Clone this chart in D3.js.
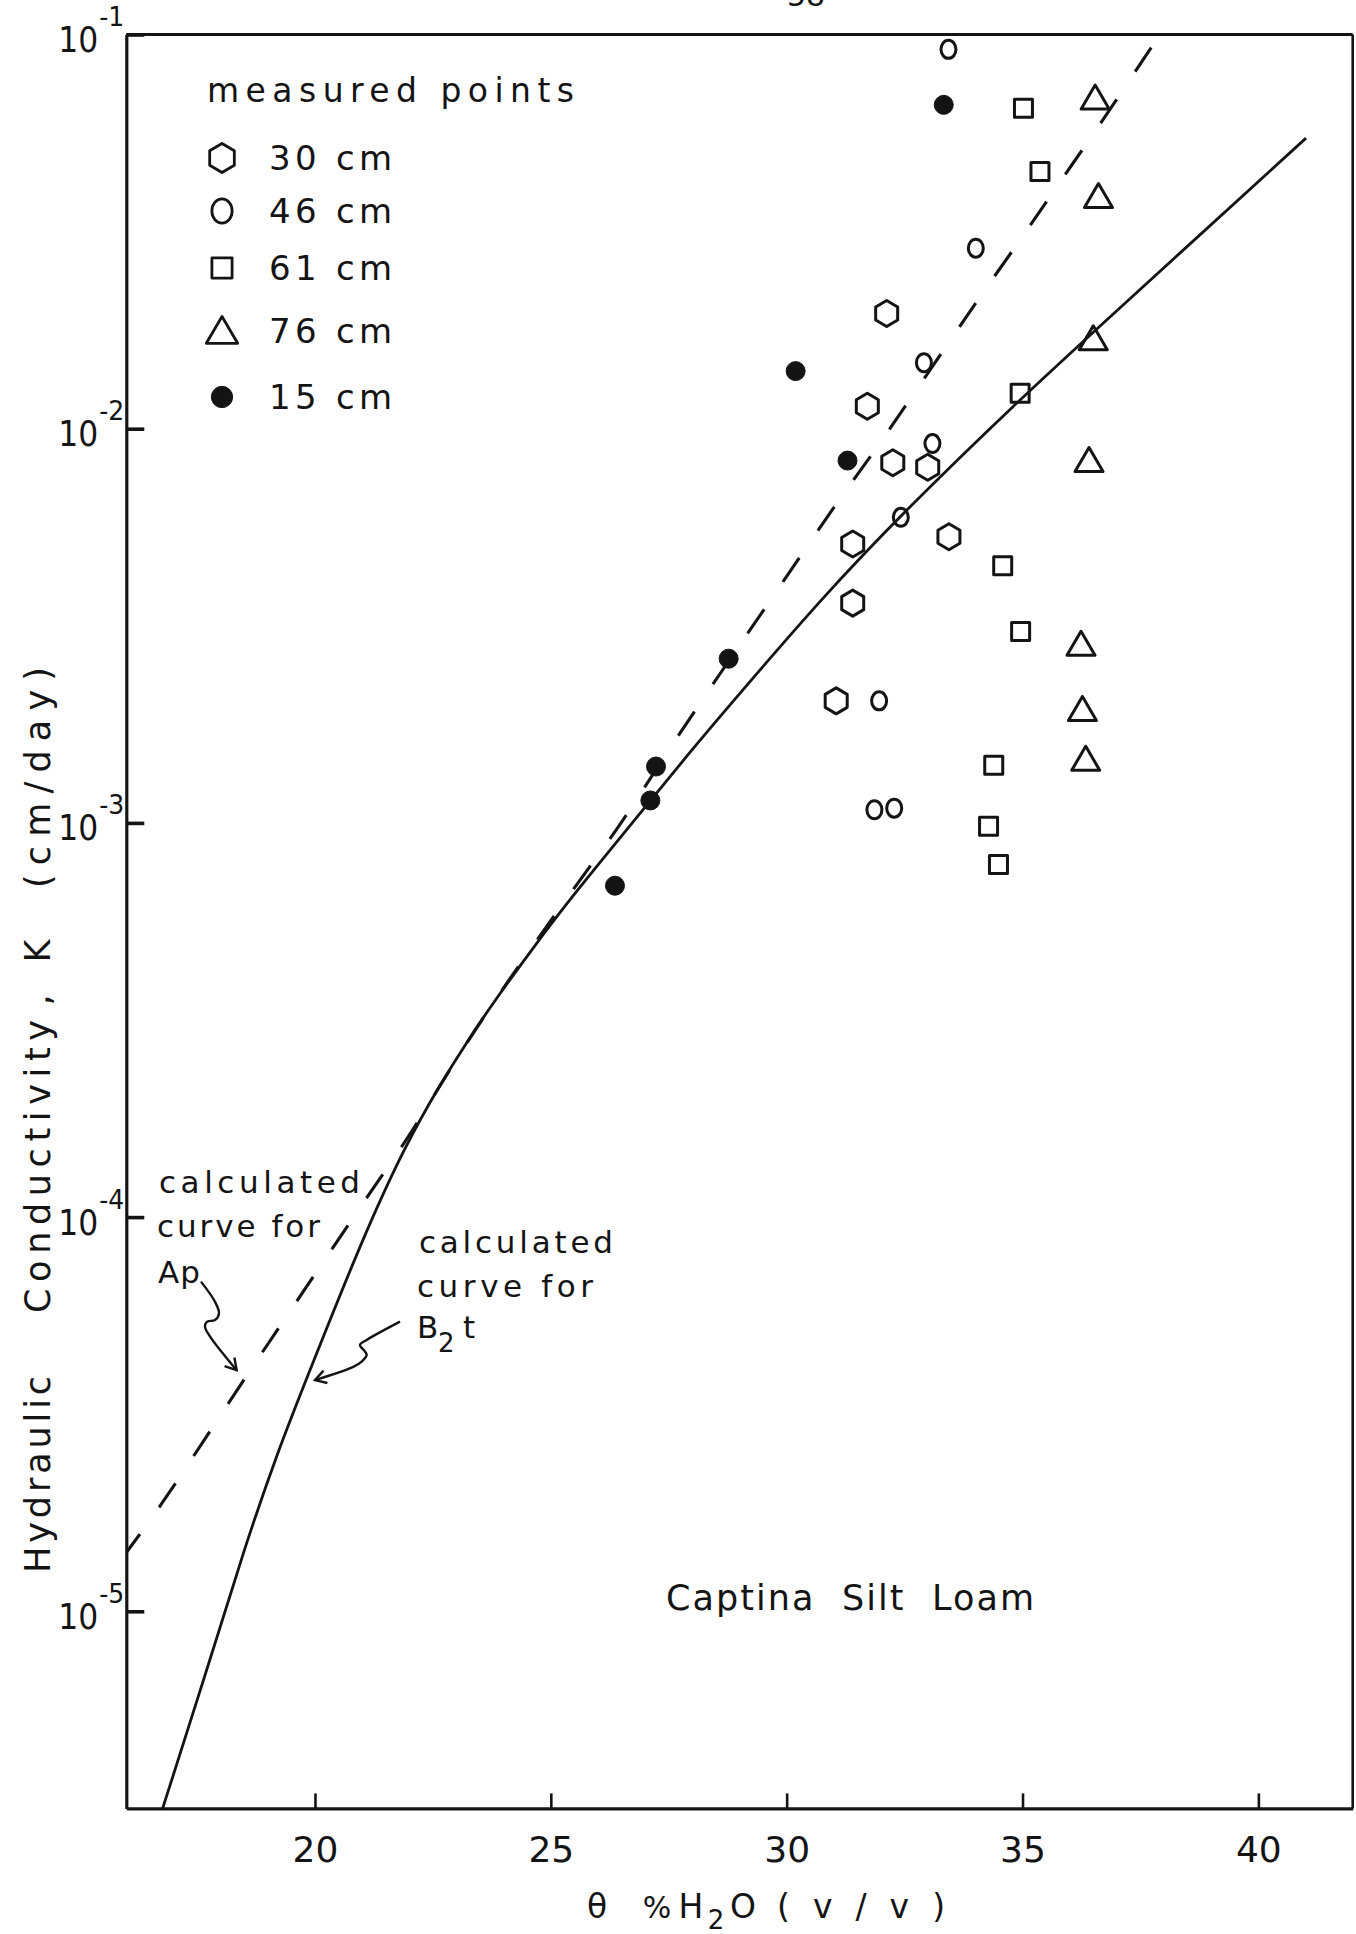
<!DOCTYPE html>
<html>
<head>
<meta charset="utf-8">
<script src="https://cdn.jsdelivr.net/npm/d3@7"></script>
<style>
  html, body { margin: 0; padding: 0; background: #ffffff; }
  svg { display: block; }
  text { font-family: "DejaVu Sans", "Liberation Sans", sans-serif; fill: #141414; }
</style>
</head>
<body>
<svg id="chart" width="1356" height="1934"></svg>
<script>
// ---- axis ticks ----
const thetaTicks = [20, 25, 30, 35, 40];
const kExponents = [-1, -2, -3, -4, -5];

// ---- measured points: [theta (% v/v), K (cm/day)] ----
const pts30cm = [[32.12, 0.0196], [31.71, 0.0114], [32.25, 0.0082], [32.99, 0.00798],
                 [31.40, 0.0051], [33.44, 0.00532], [31.40, 0.00361], [31.05, 0.00204]];
const pts46cm = [[33.43, 0.0917], [34.01, 0.0287], [32.91, 0.0147], [33.09, 0.00917],
                 [32.42, 0.00596], [31.96, 0.00204], [31.86, 0.00108], [32.28, 0.00109]];
const pts61cm = [[35.02, 0.065], [35.37, 0.0449], [34.95, 0.0123], [34.58, 0.00449],
                 [34.96, 0.00306], [34.39, 0.0014], [34.28, 0.00098], [34.49, 0.000784]];
const pts76cm = [[36.54, 0.069], [36.61, 0.0388], [36.50, 0.0169], [36.41, 0.0083],
                 [36.24, 0.00284], [36.27, 0.00194], [36.34, 0.00145]];
const pts15cm = [[33.33, 0.0663], [30.19, 0.0140], [31.29, 0.0083], [28.77, 0.00261],
                 [27.23, 0.00139], [27.11, 0.00114], [26.36, 0.000693]];

// ---- calculated curves ----
const curveB2t = [[16.77, 3.16e-6], [17.84, 7.96e-6], [18.49, 1.43e-5], [19.22, 2.56e-5],
                  [19.81, 3.86e-5], [21.00, 8.79e-5], [21.91, 1.517e-4], [22.65, 2.168e-4],
                  [23.22, 2.78e-4], [23.77, 3.49e-4], [24.62, 4.81e-4], [25.41, 6.43e-4],
                  [27.12, 1.14e-3], [27.95, 1.514e-3], [28.80, 1.995e-3], [30.74, 3.715e-3],
                  [32.45, 6.10e-3], [34.95, 1.189e-2], [36.50, 1.758e-2], [41.01, 5.46e-2]];
const curveAp = [[16.00, 1.41e-5], [16.78, 1.88e-5], [18.48, 3.86e-5], [19.82, 6.65e-5],
                 [21.34, 1.24e-4], [22.02, 1.61e-4], [23.29, 2.90e-4], [25.18, 6.09e-4],
                 [26.47, 9.82e-4], [27.28, 1.40e-3], [28.10, 1.96e-3], [28.84, 2.65e-3],
                 [29.63, 3.63e-3], [30.45, 5.07e-3], [31.19, 6.82e-3], [31.96, 9.10e-3],
                 [32.66, 1.21e-2], [33.52, 1.71e-2], [34.24, 2.29e-2], [35.03, 3.10e-2],
                 [35.69, 4.06e-2], [36.47, 5.52e-2], [37.13, 7.23e-2], [37.91, 1.00e-1]];

// ---- pointer arrows of the curve labels ----
const arrowAp = [[17.584, 6.86e-5], [17.880, 6.10e-5], [17.965, 5.70e-5], [17.880, 5.48e-5],
                 [17.717, 5.43e-5], [17.668, 5.27e-5], [18.340, 4.09e-5]];
const arrowB2t = [[21.802, 5.43e-5], [21.096, 4.88e-5], [20.954, 4.74e-5], [21.060, 4.56e-5],
                  [21.096, 4.47e-5], [20.990, 4.30e-5], [20.812, 4.17e-5], [20.000, 3.86e-5]];

// ---- legend ----
const legendTitle = "measured points";
const legendLabels = ["30 cm", "46 cm", "61 cm", "76 cm", "15 cm"];
const legendShapes = ["hexagon", "circle", "square", "triangle", "dot"];

const svg = d3.select("#chart");
const INK = "#141414";

const x = d3.scaleLinear().domain([16, 42]).range([126.3, 1352.7]);
const y = d3.scaleLog().domain([Math.pow(10, -5.5), 1e-1]).range([1808.4, 34.5]);
const [x0, x1] = x.range();
const [yb, yt] = y.range();

const defs = svg.append("defs");
defs.append("clipPath").attr("id", "plot-clip")
  .append("rect").attr("x", x0).attr("y", yt).attr("width", x1 - x0).attr("height", yb - yt);
defs.append("marker")
  .attr("id", "open-head").attr("markerUnits", "userSpaceOnUse")
  .attr("viewBox", "-1 -8 14 16").attr("refX", 11).attr("refY", 0)
  .attr("markerWidth", 14).attr("markerHeight", 16).attr("orient", "auto")
  .append("path").attr("d", "M0,-6.5L11,0L0,6.5")
  .attr("fill", "none").attr("stroke", INK).attr("stroke-width", 2.4);

// page number, mostly cut off by the top edge
svg.append("text").attr("x", 806).attr("y", 6).attr("text-anchor", "middle")
  .attr("font-size", 30).text("58");

// ---- axes ----
const xAxis = d3.axisBottom(x).tickValues(thetaTicks)
  .tickSizeInner(-15).tickSizeOuter(0).tickPadding(28).tickFormat(d3.format("d"));
const gx = svg.append("g").attr("transform", `translate(0,${yb})`).call(xAxis);
gx.attr("font-family", null).attr("font-size", null);
gx.select(".domain").attr("stroke", INK).attr("stroke-width", 3.2);
gx.selectAll(".tick line").attr("stroke", INK).attr("stroke-width", 2.6);
gx.selectAll(".tick text").attr("font-size", 36).attr("fill", INK);

const yAxis = d3.axisLeft(y).tickValues(kExponents.map(e => Math.pow(10, e)))
  .tickSizeInner(-18).tickSizeOuter(0).tickFormat(() => "");
const gy = svg.append("g").attr("transform", `translate(${x0},0)`).call(yAxis);
gy.select(".domain").attr("stroke", INK).attr("stroke-width", 3.2);
gy.selectAll(".tick line").attr("stroke", INK).attr("stroke-width", 3.6);
gy.selectAll(".tick").each(function (d) {
  const g = d3.select(this);
  const e = Math.round(Math.log10(d));
  g.append("text").attr("x", -28).attr("y", 17).attr("text-anchor", "end")
    .attr("font-size", 36).attr("fill", INK)
    .attr("textLength", 40).attr("lengthAdjust", "spacingAndGlyphs").text("10");
  g.append("text").attr("x", -27).attr("y", -9).attr("text-anchor", "start")
    .attr("font-size", 27).attr("fill", INK)
    .attr("textLength", 25).attr("lengthAdjust", "spacingAndGlyphs").text("-" + Math.abs(e));
});

// top and right borders of the frame
svg.append("line").attr("x1", x0).attr("x2", x1).attr("y1", yt).attr("y2", yt)
  .attr("stroke", INK).attr("stroke-width", 2.8);
svg.append("line").attr("x1", x1).attr("x2", x1).attr("y1", yt).attr("y2", yb)
  .attr("stroke", INK).attr("stroke-width", 2.6);

// ---- calculated curves ----
const plot = svg.append("g").attr("clip-path", "url(#plot-clip)");
const curveLine = d3.line().x(d => x(d[0])).y(d => y(d[1])).curve(d3.curveBasis);
plot.append("path").datum(curveB2t).attr("d", curveLine)
  .attr("fill", "none").attr("stroke", INK).attr("stroke-width", 2.8);
plot.append("path").datum(curveAp).attr("d", curveLine)
  .attr("fill", "none").attr("stroke", INK).attr("stroke-width", 3.1)
  .attr("stroke-dasharray", "29 33").attr("stroke-dashoffset", 6);

// ---- marker shapes ----
function shapePath(kind, s) {
  s = s || 1;
  switch (kind) {
    case "hexagon": {
      const w = 11 * s, h = 13 * s;
      return `M0,${-h}L${w},${-h / 2}L${w},${h / 2}L0,${h}L${-w},${h / 2}L${-w},${-h / 2}Z`;
    }
    case "square": {
      const a = 9 * s;
      return `M${-a},${-a}H${a}V${a}H${-a}Z`;
    }
    case "triangle": {
      const w = 14 * s;
      return `M0,${-13 * s}L${w},${11 * s}L${-w},${11 * s}Z`;
    }
    case "circle": {
      const rx = 7.5 * s, ry = 9 * s;
      return `M${-rx},0A${rx},${ry} 0 1,0 ${rx},0A${rx},${ry} 0 1,0 ${-rx},0Z`;
    }
    case "dot": {
      const r = 9.5 * s;
      return `M${-r},0A${r},${r} 0 1,0 ${r},0A${r},${r} 0 1,0 ${-r},0Z`;
    }
  }
}
function drawSeries(data, kind) {
  const filled = kind === "dot";
  svg.append("g").selectAll("path").data(data).join("path")
    .attr("transform", d => `translate(${x(d[0])},${y(d[1])})`)
    .attr("d", shapePath(kind))
    .attr("fill", filled ? INK : "none")
    .attr("stroke", INK).attr("stroke-width", filled ? 1 : 3)
    .attr("stroke-linejoin", "round");
}
drawSeries(pts30cm, "hexagon");
drawSeries(pts46cm, "circle");
drawSeries(pts61cm, "square");
drawSeries(pts76cm, "triangle");
drawSeries(pts15cm, "dot");

// ---- pointer arrows ----
const arrowLine = d3.line().x(d => x(d[0])).y(d => y(d[1])).curve(d3.curveCatmullRom.alpha(0.5));
[arrowAp, arrowB2t].forEach(a => {
  svg.append("path").datum(a).attr("d", arrowLine)
    .attr("fill", "none").attr("stroke", INK).attr("stroke-width", 2.4)
    .attr("marker-end", "url(#open-head)");
});

// ---- text helpers ----
function label(txt, px, py, size, len, anchor) {
  const t = svg.append("text").attr("x", px).attr("y", py)
    .attr("font-size", size).attr("text-anchor", anchor || "start")
    .style("white-space", "pre").text(txt);
  if (len) t.attr("textLength", len).attr("lengthAdjust", "spacing");
  return t;
}

// legend
label(legendTitle, 207, 102, 33, 367);
const legendRowY = [158, 211, 268, 331, 397];
legendLabels.forEach((txt, i) => {
  const cy = legendRowY[i];
  const kind = legendShapes[i];
  const filled = kind === "dot";
  svg.append("path").attr("transform", `translate(222,${cy})`)
    .attr("d", shapePath(kind, kind === "circle" ? 1.35 : 1.12))
    .attr("fill", filled ? INK : "none").attr("stroke", INK)
    .attr("stroke-width", filled ? 1 : 2.8).attr("stroke-linejoin", "round");
  label(txt, 269, cy + 12, 34, 123);
});

// curve annotations
label("calculated", 159, 1193, 31, 201);
label("curve for", 157, 1237, 31, 163);
label("Ap", 158, 1283, 31, 42);

label("calculated", 419, 1253, 31, 194);
label("curve for", 417, 1297, 31, 176);
label("B", 417, 1338, 31);
label("2", 438, 1352, 26);
label("t", 463, 1338, 31);

label("Captina  Silt  Loam", 666, 1610, 35, 368);

// x axis title
label("\u03b8", 597, 1918, 33, null, "middle");
label("%", 657, 1918, 30, null, "middle");
label("H", 691, 1918, 33, null, "middle");
label("2", 716, 1929, 26, null, "middle");
label("O", 743, 1918, 33, null, "middle");
label("( v / v )", 777, 1918, 33, 168);

// y axis title, reading upward
const yTitle = [["Hydraulic", 1474.5, 197], ["Conductivity", 1166.5, 293], [",", 1000, 0],
                ["K", 951, 0], ["(cm/day)", 777.5, 221]];
yTitle.forEach(([txt, cy, len]) => {
  const t = svg.append("text").attr("transform", `translate(50,${cy}) rotate(-90)`)
    .attr("text-anchor", "middle").attr("font-size", 35).text(txt);
  if (len) t.attr("textLength", len).attr("lengthAdjust", "spacing");
});
</script>
</body>
</html>
